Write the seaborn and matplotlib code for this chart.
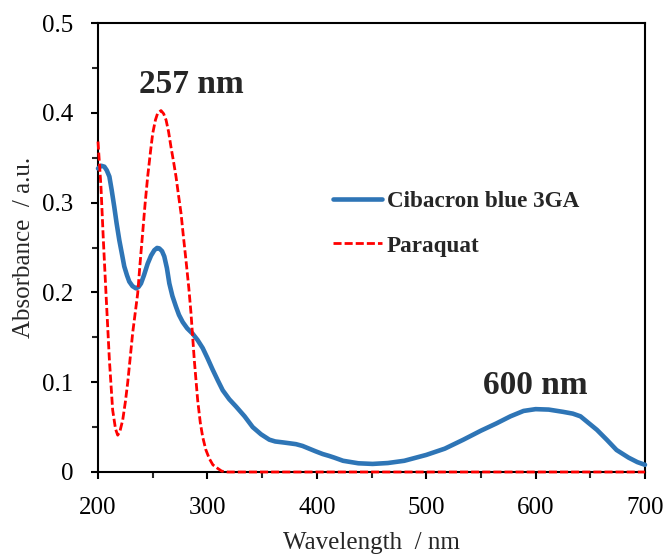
import numpy as np
import pandas as pd
import matplotlib
matplotlib.use("Agg")
import matplotlib.pyplot as plt
import seaborn as sns

# Cibacron blue 3GA spectrum
blue_wl = [200, 203, 205.8, 208, 210.4, 212.5, 214.9, 217, 219.5, 222, 224, 226.5, 228.6, 231.5, 234.7, 237,
           239.3, 242, 245.4, 248.5, 251.5, 254, 256, 258.5, 260.6, 263, 265.2, 268, 271.3, 274, 277.4, 281.5,
           286.5, 291, 295.7, 300, 304.8, 309.5, 314, 320, 326.1, 334, 341.4, 349, 356.6, 362, 368.8, 375, 381,
           387, 393, 399, 405.4, 411, 416, 424, 438, 451, 465, 480, 500, 517, 534, 550, 564, 577, 589, 600,
           612, 625, 634, 641, 648, 656, 665, 674, 685, 693, 700]
blue_abs = [0.338, 0.341, 0.340, 0.336, 0.329, 0.314, 0.295, 0.277, 0.258, 0.242, 0.229, 0.219, 0.212, 0.207,
            0.2045, 0.206, 0.210, 0.219, 0.232, 0.241, 0.247, 0.2495, 0.249, 0.246, 0.240, 0.227, 0.210, 0.196,
            0.184, 0.175, 0.167, 0.160, 0.154, 0.147, 0.138, 0.127, 0.114, 0.102, 0.091, 0.081, 0.073, 0.062,
            0.050, 0.042, 0.036, 0.034, 0.033, 0.032, 0.031, 0.029, 0.026, 0.023, 0.020, 0.018, 0.016, 0.0125,
            0.0097, 0.009, 0.010, 0.0125, 0.019, 0.026, 0.036, 0.046, 0.054, 0.062, 0.068, 0.070, 0.0695, 0.067,
            0.065, 0.062, 0.055, 0.047, 0.036, 0.0245, 0.016, 0.011, 0.008]

# Paraquat spectrum
red_wl = [200, 202.7, 204.9, 207.3, 210.4, 213.4, 216, 218, 220, 222.6, 225, 227.1, 229.5, 231.7, 234, 236.3,
          238.5, 240.8, 243, 245.4, 248, 250, 252.5, 254.5, 257.6, 260, 262.2, 264.5, 266.7, 269, 271.3, 273.5,
          275.9, 278, 280.4, 283, 285, 288, 291.1, 293.5, 295.7, 298.5, 301.7, 305, 309.4, 313, 318.5, 350, 400,
          500, 600, 700]
red_abs = [0.368, 0.318, 0.258, 0.199, 0.125, 0.069, 0.048, 0.041, 0.045, 0.058, 0.078, 0.099, 0.128, 0.155,
           0.177, 0.199, 0.233, 0.266, 0.298, 0.329, 0.357, 0.377, 0.392, 0.3995, 0.4025, 0.399, 0.392, 0.379,
           0.362, 0.346, 0.329, 0.309, 0.288, 0.263, 0.236, 0.205, 0.177, 0.125, 0.080, 0.055, 0.039, 0.025,
           0.015, 0.008, 0.004, 0.001, 0.0, 0.0, 0.0, 0.0, 0.0, 0.0]

series_names = ["Cibacron blue 3GA", "Paraquat"]
peak_labels = ["257 nm", "600 nm"]
x_ticks = [200, 300, 400, 500, 600, 700]
y_ticks = [0, 0.1, 0.2, 0.3, 0.4, 0.5]

sns.set_style("ticks")
plt.rcParams['font.family'] = ['Liberation Serif', 'DejaVu Serif']

fig = plt.figure(figsize=(6.68, 5.55), dpi=100)
ax = fig.add_axes([98/668, 1-472/555, 547/668, 449/555])

df_b = pd.DataFrame({"wl": blue_wl, "abs": blue_abs})
df_r = pd.DataFrame({"wl": red_wl, "abs": red_abs})

sns.lineplot(data=df_b, x="wl", y="abs", ax=ax, color="#2E75B6", lw=3.3,
             label=series_names[0], zorder=3)
sns.lineplot(data=df_r, x="wl", y="abs", ax=ax, color="#FF0000", lw=2.0,
             label=series_names[1], zorder=4)
ax.lines[1].set_linestyle((0, (2.9, 1.1)))
for ln in ax.lines:
    ln.set_clip_on(False)
    ln.set_solid_joinstyle("round")
    ln.set_solid_capstyle("round")

ax.set_xlim(200, 700)
ax.set_ylim(0, 0.5)
ax.set_xticks(x_ticks)
ax.set_xticklabels([str(v) for v in x_ticks])
ax.set_yticks(y_ticks)
ax.set_yticklabels(["0", "0.1", "0.2", "0.3", "0.4", "0.5"])
ax.set_xticks([250, 350, 450, 550, 650], minor=True)
ax.set_yticks([0.05, 0.15, 0.25, 0.35, 0.45], minor=True)

for s in ax.spines.values():
    s.set_linewidth(1.5)
    s.set_color("black")
    s.set_visible(True)
ax.tick_params(which="major", direction="out", length=5, width=1.5, labelsize=18, colors="black")
ax.tick_params(which="minor", direction="out", length=4.5, width=1.5)
ax.tick_params(axis="x", which="major", pad=13)
ax.tick_params(axis="y", which="major", pad=13)

ax.set_xlabel("Wavelength  / nm", fontsize=18, labelpad=9)
ax.set_ylabel("Absorbance  / a.u.", fontsize=18, labelpad=5)

ax.text(285, 0.432, peak_labels[0], ha="center", va="center", fontsize=24, fontweight="bold")
ax.text(600, 0.096, peak_labels[1], ha="center", va="center", fontsize=24, fontweight="bold")

leg = ax.legend(loc="upper left", bbox_to_anchor=(0.43, 0.627), frameon=False,
                prop={"weight": "bold", "size": 16.7}, handlelength=2.1, handletextpad=0.2,
                labelspacing=1.02, borderpad=0, borderaxespad=0)
leg.get_lines()[1].set_linestyle((0, (2.9, 1.1)))

fig.savefig("out.png", dpi=100)
